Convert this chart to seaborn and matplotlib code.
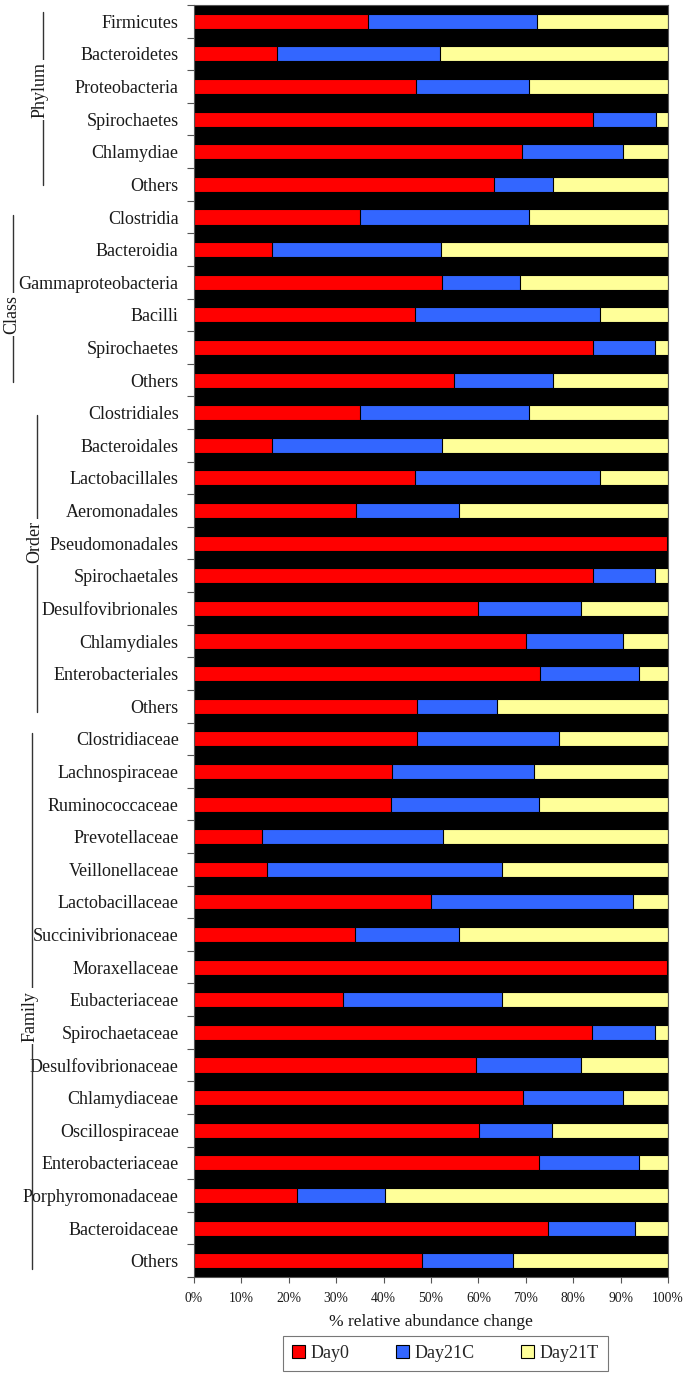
import matplotlib
matplotlib.use("Agg")
import matplotlib.pyplot as plt
import matplotlib.transforms as mtransforms
from matplotlib.patches import Patch
from matplotlib.ticker import FixedLocator, PercentFormatter
import seaborn as sns
import pandas as pd

# ---------------- data ----------------
phylum = ["Firmicutes", "Bacteroidetes", "Proteobacteria", "Spirochaetes", "Chlamydiae", "Others"]
klass = ["Clostridia", "Bacteroidia", "Gammaproteobacteria", "Bacilli", "Spirochaetes", "Others"]
order = ["Clostridiales", "Bacteroidales", "Lactobacillales", "Aeromonadales", "Pseudomonadales",
         "Spirochaetales", "Desulfovibrionales", "Chlamydiales", "Enterobacteriales", "Others"]
family = ["Clostridiaceae", "Lachnospiraceae", "Ruminococcaceae", "Prevotellaceae", "Veillonellaceae",
          "Lactobacillaceae", "Succinivibrionaceae", "Moraxellaceae", "Eubacteriaceae", "Spirochaetaceae",
          "Desulfovibrionaceae", "Chlamydiaceae", "Oscillospiraceae", "Enterobacteriaceae",
          "Porphyromonadaceae", "Bacteroidaceae", "Others"]

day0 = [36.8, 17.5, 46.9, 84.2, 69.2, 63.2,
        35.1, 16.5, 52.4, 46.7, 84.2, 54.9,
        35.1, 16.5, 46.7, 34.2, 99.8, 84.2, 59.9, 70.1, 73.0, 47.0,
        47.0, 41.8, 41.5, 14.4, 15.3, 50.1, 33.9, 99.8, 31.5, 83.9, 59.5, 69.4, 60.1, 72.7, 21.7, 74.6, 48.2]
day21c = [35.5, 34.4, 23.8, 13.3, 21.4, 12.5,
          35.6, 35.6, 16.3, 39.0, 13.1, 20.9,
          35.6, 35.9, 39.0, 21.7, 0.1, 13.1, 21.8, 20.5, 20.9, 16.9,
          30.0, 30.0, 31.2, 38.1, 49.7, 42.5, 22.0, 0.1, 33.5, 13.4, 22.2, 21.2, 15.5, 21.2, 18.6, 18.5, 19.2]
day21t = [27.7, 48.1, 29.3, 2.5, 9.4, 24.3,
          29.3, 47.9, 31.3, 14.3, 2.7, 24.2,
          29.3, 47.6, 14.3, 44.1, 0.1, 2.7, 18.3, 9.4, 6.1, 36.1,
          23.0, 28.2, 27.3, 47.5, 35.0, 7.4, 44.1, 0.1, 35.0, 2.7, 18.3, 9.4, 24.4, 6.1, 59.7, 6.9, 32.6]

series = ["Day0", "Day21C", "Day21T"]
colors = {"Day0": "#FF0000", "Day21C": "#3366FF", "Day21T": "#FFFF99"}
group_names = ["Phylum", "Class", "Order", "Family"]

labels = phylum + klass + order + family
df = pd.DataFrame({"key": [f"r{i:02d}" for i in range(len(labels))],
                   "label": labels, "Day0": day0, "Day21C": day21c, "Day21T": day21t})
tot = df[series].sum(axis=1)
for s in series:
    df[s] = df[s] / tot * 100
df["c0"] = df["Day0"]
df["c1"] = df["Day0"] + df["Day21C"]
df["c2"] = df["c1"] + df["Day21T"]

# ---------------- plot ----------------
sns.set_theme(style="white")
plt.rcParams["font.family"] = ["Liberation Serif", "DejaVu Serif"]

fig = plt.figure(figsize=(6.95, 13.77), dpi=100)
ax = fig.add_axes([194 / 695, 1 - 1277 / 1377, 474 / 695, 1272 / 1377])
ax.set_facecolor("black")

bw = 0.46
for col, s in [("c2", "Day21T"), ("c1", "Day21C"), ("c0", "Day0")]:
    sns.barplot(data=df, x=col, y="key", orient="h", color=colors[s], width=bw,
                edgecolor="black", linewidth=0.8, saturation=1, ax=ax)

n = len(labels)
ax.set_xlim(0, 100)
ax.set_ylim(n - 0.5, -0.5)
ax.set_yticks(range(n))
ax.set_yticklabels(labels, fontsize=13, color="#1a1a1a")
ax.yaxis.set_minor_locator(FixedLocator([i + 0.5 for i in range(-1, n)]))
ax.tick_params(axis="y", which="major", length=0, pad=11)
ax.tick_params(axis="y", which="minor", length=5, width=0.8, color="#555555", left=True)
ax.set_xticks(range(0, 101, 10))
ax.xaxis.set_major_formatter(PercentFormatter(decimals=0))
ax.tick_params(axis="x", which="major", length=4, width=0.8, color="#555555", bottom=True,
               labelsize=9.8, pad=7, labelcolor="#1a1a1a")
ax.set_xlabel("% relative abundance change", fontsize=12.5, labelpad=6, color="#1a1a1a")
ax.set_ylabel("")
for sp in ax.spines.values():
    sp.set_color("#555555")
    sp.set_linewidth(0.8)

# group brackets
trans = mtransforms.blended_transform_factory(fig.transFigure, ax.transData)
groups = [
    ("Phylum", 43, -0.28, 5.02, 40, 2.1),
    ("Class", 13, 5.94, 11.06, 12, 8.98),
    ("Order", 37, 12.08, 21.19, 35, 15.97),
    ("Family", 32, 21.83, 38.24, 30, 30.5),
]
for name, lx, y0, y1, tx, ty in groups:
    ax.plot([lx / 695, lx / 695], [y0, y1], transform=trans, color="#333333",
            lw=1.0, clip_on=False)
    ax.text(tx / 695, ty, name, transform=trans, rotation=90, ha="center", va="center",
            fontsize=13, color="#1a1a1a",
            bbox=dict(facecolor="white", edgecolor="none", pad=1.5), clip_on=False)

handles = [Patch(facecolor=colors[s], edgecolor="black", linewidth=0.8, label=s) for s in series]
leg = fig.legend(handles=handles, loc="center", bbox_to_anchor=(445.5 / 695, 1 - 1353.5 / 1377),
                 ncol=3, frameon=True, fancybox=False, fontsize=13, handlelength=0.7,
                 handleheight=0.7, handletextpad=0.3, columnspacing=2.6, borderpad=0.5)
leg.get_frame().set_edgecolor("#555555")
leg.get_frame().set_linewidth(0.8)

fig.savefig("out.png", dpi=100, facecolor="white")
